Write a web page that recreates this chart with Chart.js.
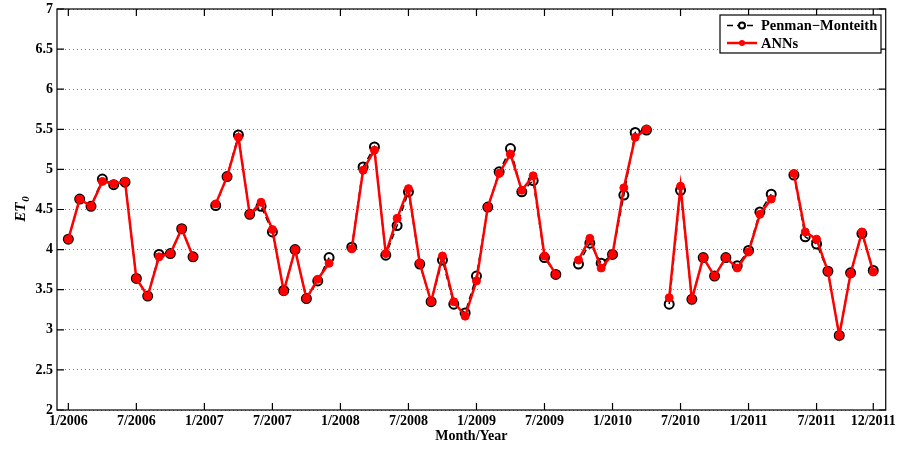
<!DOCTYPE html>
<html>
<head>
<meta charset="utf-8">
<script src="https://cdn.jsdelivr.net/npm/chart.js@4"></script>
<style>
  html, body { margin: 0; padding: 0; background: #fff; }
  #wrap { width: 899px; height: 449px; }
</style>
</head>
<body>
<div id="wrap"><canvas id="etChart" width="899" height="449"></canvas></div>
<script>
// month index 0 = 1/2006 ... 71 = 12/2011, null = missing month
const tickMonths = [0, 6, 12, 18, 24, 30, 36, 42, 48, 54, 60, 66, 71];
const tickLabels = ['1/2006', '7/2006', '1/2007', '7/2007', '1/2008', '7/2008', '1/2009',
  '7/2009', '1/2010', '7/2010', '1/2011', '7/2011', '12/2011'];

const penmanMonteith = [
  4.13, 4.63, 4.54, 4.88, 4.81, 4.84, 3.64, 3.42, 3.94, 3.95, 4.26, 3.91,
  null, 4.55, 4.91, 5.43, 4.44, 4.54, 4.22, 3.49, 4.00, 3.39, 3.61, 3.90,
  null, 4.03, 5.03, 5.28, 3.93, 4.30, 4.72, 3.82, 3.35, 3.87, 3.32, 3.21,
  3.67, 4.53, 4.97, 5.26, 4.72, 4.86, 3.90, 3.69, null, 3.82, 4.08, 3.83,
  3.94, 4.68, 5.46, 5.49, null, 3.32, 4.74, 3.38, 3.90, 3.67, 3.90, 3.80,
  3.99, 4.47, 4.69, null, 4.93, 4.16, 4.07, 3.73, 2.93, 3.71, 4.20, 3.74
];
const anns = [
  4.13, 4.63, 4.54, 4.85, 4.82, 4.85, 3.64, 3.42, 3.91, 3.95, 4.26, 3.91,
  null, 4.57, 4.91, 5.40, 4.44, 4.59, 4.25, 3.48, 4.00, 3.39, 3.63, 3.83,
  null, 4.01, 4.99, 5.24, 3.95, 4.39, 4.76, 3.83, 3.35, 3.92, 3.35, 3.17,
  3.61, 4.53, 4.95, 5.19, 4.74, 4.92, 3.92, 3.69, null, 3.87, 4.14, 3.77,
  3.94, 4.77, 5.40, 5.50, null, 3.40, 4.79, 3.38, 3.90, 3.67, 3.90, 3.77,
  3.97, 4.44, 4.63, null, 4.95, 4.22, 4.13, 3.73, 2.93, 3.70, 4.22, 3.72
];

const FONT = '"Liberation Serif", "Times New Roman", serif';
const toPoints = arr => arr.map((v, i) => ({ x: i, y: v }));

// box, inside tick marks, y title and legend (MATLAB look)
const matlabFrame = {
  id: 'matlabFrame',
  afterDraw(chart) {
    const ctx = chart.ctx;
    const a = chart.chartArea;
    const xs = chart.scales.x, ys = chart.scales.y;
    ctx.save();
    ctx.strokeStyle = '#000';
    ctx.lineWidth = 1.2;
    ctx.strokeRect(a.left, a.top, a.right - a.left, a.bottom - a.top);
    ctx.beginPath();
    tickMonths.forEach(m => {
      const px = xs.getPixelForValue(m);
      ctx.moveTo(px, a.bottom); ctx.lineTo(px, a.bottom - 7);
      ctx.moveTo(px, a.top); ctx.lineTo(px, a.top + 7);
    });
    ys.ticks.forEach(t => {
      const py = ys.getPixelForValue(t.value);
      ctx.moveTo(a.left, py); ctx.lineTo(a.left + 7, py);
      ctx.moveTo(a.right, py); ctx.lineTo(a.right - 7, py);
    });
    ctx.stroke();

    // y title ET0
    ctx.save();
    ctx.translate(21, (a.top + a.bottom) / 2);
    ctx.rotate(-Math.PI / 2);
    ctx.fillStyle = '#000';
    ctx.textBaseline = 'alphabetic';
    ctx.font = 'italic bold 15px ' + FONT;
    const w1 = ctx.measureText('ET').width;
    ctx.font = 'italic bold 11px ' + FONT;
    const w2 = ctx.measureText('0').width;
    const start = -(w1 + w2) / 2;
    ctx.font = 'italic bold 15px ' + FONT;
    ctx.fillText('ET', start, 4);
    ctx.font = 'italic bold 11px ' + FONT;
    ctx.fillText('0', start + w1 + 1, 8);
    ctx.restore();

    // legend
    const lx = 720, ly = 15, lw = 161, lh = 38;
    ctx.fillStyle = '#fff';
    ctx.fillRect(lx, ly, lw, lh);
    ctx.lineWidth = 1.2;
    ctx.strokeStyle = '#000';
    ctx.strokeRect(lx, ly, lw, lh);
    const rows = [
      { label: 'Penman\u2212Monteith', y: ly + 10.5, ds: 0 },
      { label: 'ANNs', y: ly + 28, ds: 1 }
    ];
    rows.forEach(r => {
      const ds = chart.data.datasets[r.ds];
      ctx.save();
      ctx.strokeStyle = ds.borderColor;
      ctx.lineWidth = ds.borderWidth;
      ctx.setLineDash(ds.borderDash || []);
      ctx.beginPath();
      ctx.moveTo(727, r.y); ctx.lineTo(757, r.y);
      ctx.stroke();
      ctx.setLineDash([]);
      ctx.beginPath();
      ctx.arc(742, r.y, 3, 0, Math.PI * 2);
      if (r.ds === 1) { ctx.fillStyle = ds.pointBackgroundColor; ctx.fill(); }
      else { ctx.fillStyle = '#fff'; ctx.fill(); ctx.lineWidth = 2; ctx.strokeStyle = '#000'; ctx.stroke(); }
      ctx.restore();
      ctx.fillStyle = '#000';
      ctx.font = 'bold 14.5px ' + FONT;
      ctx.textBaseline = 'middle';
      ctx.textAlign = 'left';
      ctx.fillText(r.label, 761, r.y + 1);
    });
    ctx.restore();
  }
};

new Chart(document.getElementById('etChart'), {
  type: 'line',
  data: {
    datasets: [
      {
        label: 'Penman\u2212Monteith',
        data: toPoints(penmanMonteith),
        order: 2,
        borderColor: '#000',
        borderWidth: 1.5,
        borderDash: [6, 4],
        pointRadius: 4.5,
        pointBorderWidth: 2,
        pointBorderColor: '#000',
        pointBackgroundColor: 'rgba(255,255,255,0)',
        spanGaps: false,
        tension: 0
      },
      {
        label: 'ANNs',
        data: toPoints(anns),
        order: 1,
        borderColor: '#ff0000',
        borderWidth: 2.5,
        pointRadius: 4,
        pointBorderWidth: 1,
        pointBorderColor: '#ff0000',
        pointBackgroundColor: '#ff0000',
        spanGaps: false,
        tension: 0
      }
    ]
  },
  options: {
    responsive: false,
    animation: false,
    layout: { padding: { left: 0, right: 12, top: 9, bottom: 0 } },
    plugins: { legend: { display: false }, tooltip: { enabled: false } },
    scales: {
      x: {
        type: 'linear',
        min: -1,
        max: 72.1,
        afterBuildTicks: s => { s.ticks = tickMonths.map(v => ({ value: v })); },
        afterFit: s => { s.height = 39; },
        grid: { display: false, drawTicks: false, tickLength: 0 },
        border: { display: false },
        ticks: {
          autoSkip: false,
          maxRotation: 0,
          padding: 3,
          color: '#000',
          font: { family: FONT, size: 14, weight: 'bold' },
          callback: v => tickLabels[tickMonths.indexOf(v)]
        },
        title: {
          display: true,
          text: 'Month/Year',
          color: '#000',
          padding: { top: 0, bottom: 4 },
          font: { family: FONT, size: 14, weight: 'bold' }
        }
      },
      y: {
        min: 2,
        max: 7,
        afterFit: s => { s.width = 57; s.paddingTop = 0; s.paddingBottom = 0; },
        grid: { color: '#808080', lineWidth: 1, drawTicks: false },
        border: { display: false, dash: [1, 3] },
        ticks: {
          stepSize: 0.5,
          padding: 4,
          color: '#000',
          font: { family: FONT, size: 14, weight: 'bold', lineHeight: 1 },
          callback: v => String(v)
        }
      }
    }
  },
  plugins: [matlabFrame]
});
</script>
</body>
</html>
